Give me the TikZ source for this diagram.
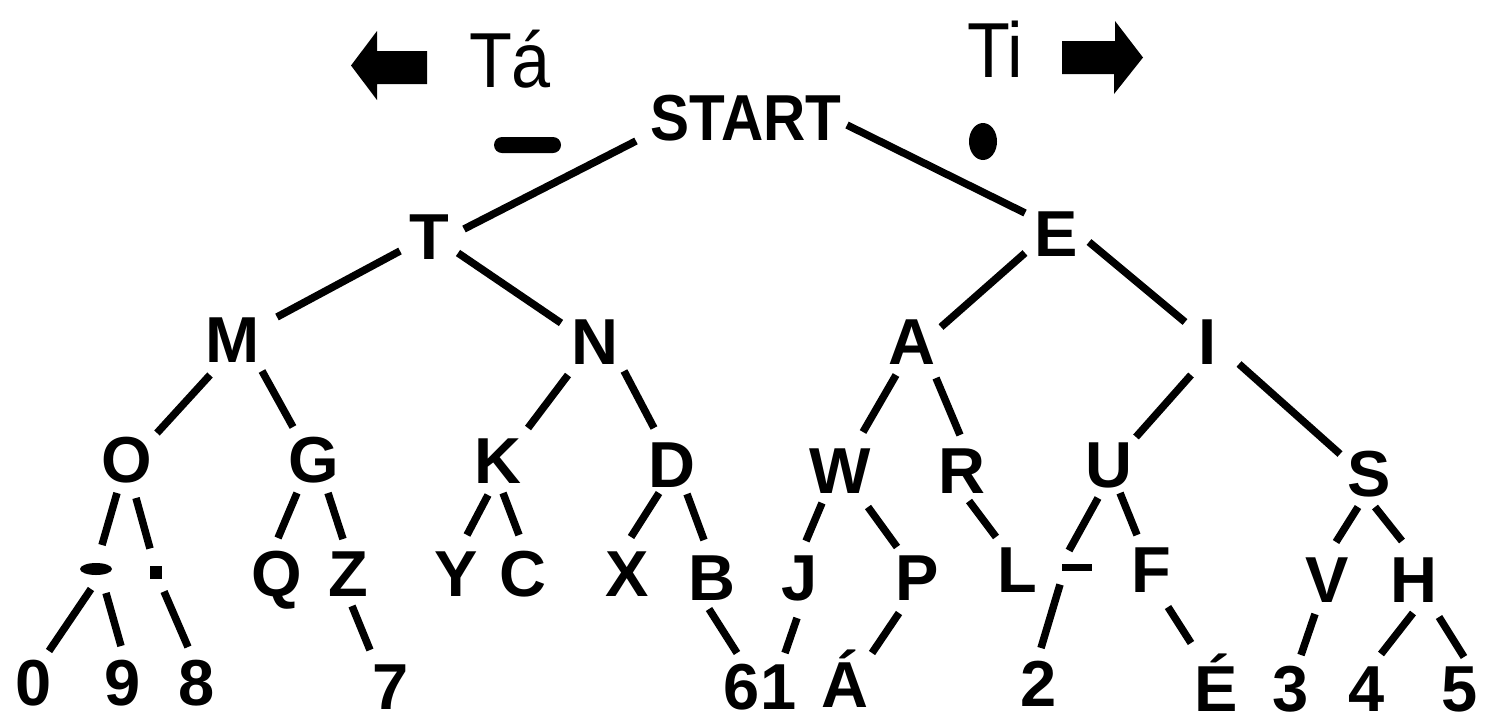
\documentclass[tikz,border=0pt]{standalone}
\usepackage{fontspec}
\usepackage{graphicx}
\setmainfont{Liberation Sans}
\usetikzlibrary{calc,shapes.geometric}
\newcommand\lblfont{\fontsize{65}{70}\selectfont\bfseries}
\newcommand\topfont{\fontsize{78}{80}\selectfont}
\begin{document}
\begin{tikzpicture}[x=1pt,y=-1pt,
  lbl/.style={font=\lblfont,inner sep=0pt,anchor=base},
  toplbl/.style={font=\topfont,inner sep=0pt,anchor=base},
  ln/.style={line width=7.5pt,line cap=butt},
  blob/.style={fill=black,draw=none,inner sep=0pt}]
\useasboundingbox (0,0) rectangle (1488,716);
% header
\fill (351,65.5) -- (377,31) -- (377,51) -- (427,51) -- (427,84) -- (377,84) -- (377,100) -- cycle;
\fill (1062,41) -- (1115,41) -- (1115,21) -- (1143,57.5) -- (1114,94) -- (1114,74) -- (1062,74) -- cycle;
\node[toplbl] (ta) at (510,87) {\scalebox{0.9}[1]{Tá}};
\node[toplbl] (ti) at (995,77) {\scalebox{0.9}[1]{Ti}};
\node[blob,rectangle,rounded corners=8pt,minimum width=67pt,minimum height=16pt] (tminus) at (527.5,145) {};
\node[blob,ellipse,minimum width=28pt,minimum height=37pt] (tdot) at (983,141.5) {};
% nodes
\node[lbl] (nstart) at (746,140) {\scalebox{0.9}[1]{START}};
\node[lbl] (nT) at (429,259) {T};
\node[lbl] (nE) at (1056,256) {E};
\node[lbl] (nM) at (233,362) {M};
\node[lbl] (nN) at (595,364) {N};
\node[lbl] (nA) at (912,364) {A};
\node[lbl] (nI) at (1208,364) {I};
\node[lbl] (nO) at (127,482) {O};
\node[lbl] (nG) at (314,482) {G};
\node[lbl] (nK) at (498,483) {K};
\node[lbl] (nD) at (672,487) {D};
\node[lbl] (nW) at (840,493) {W};
\node[lbl] (nR) at (962,493) {R};
\node[lbl] (nU) at (1109,487) {U};
\node[lbl] (nS) at (1369,496) {S};
\node[blob,ellipse,minimum width=32pt,minimum height=12pt] (ndl) at (96,569) {};
\node[blob,rectangle,minimum width=12pt,minimum height=13pt] (npl) at (156,572.5) {};
\node[lbl] (nQ) at (277,596) {Q};
\node[lbl] (nZ) at (348,596) {Z};
\node[lbl] (nY) at (456,596) {Y};
\node[lbl] (nC) at (523,596) {C};
\node[lbl] (nX) at (627,596) {X};
\node[lbl] (nB) at (712,600) {B};
\node[lbl] (nJ) at (800,600) {J};
\node[lbl] (nP) at (917,600) {P};
\node[lbl] (nL) at (1017,592) {L};
\node[blob,rectangle,minimum width=30pt,minimum height=7pt] (ndu) at (1077,567.5) {};
\node[lbl] (nF) at (1151,592) {F};
\node[lbl] (nV) at (1327,602) {V};
\node[lbl] (nH) at (1414,602) {H};
\node[lbl] (d0) at (34,705) {0};
\node[lbl] (d9) at (123,705) {9};
\node[lbl] (d8) at (197,705) {8};
\node[lbl] (d7) at (391,709) {7};
\node[lbl] (d6) at (742,709) {6};
\node[lbl] (d1) at (779,709) {1};
\node[lbl] (nAa) at (845,707) {Á};
\node[lbl] (d2) at (1039,706) {2};
\node[lbl] (nEe) at (1216,711) {É};
\node[lbl] (d3) at (1291,711) {3};
\node[lbl] (d4) at (1367,711) {4};
\node[lbl] (d5) at (1460,711) {5};
% edges
\draw[ln] ($(nstart.base)+(-110,1)$) -- ($(nT.base)+(35,-30)$);
\draw[ln] ($(nstart.base)+(101,-15)$) -- ($(nE.base)+(-31,-43)$);
\draw[ln] ($(nT.base)+(-29,-8)$) -- ($(nM.base)+(44,-45)$);
\draw[ln] ($(nT.base)+(29,-6)$) -- ($(nN.base)+(-34,-41)$);
\draw[ln] ($(nE.base)+(-31,-3)$) -- ($(nA.base)+(29,-37)$);
\draw[ln] ($(nE.base)+(33,-14)$) -- ($(nI.base)+(-23,-42)$);
\draw[ln] ($(nM.base)+(-23,13)$) -- ($(nO.base)+(30,-49)$);
\draw[ln] ($(nM.base)+(29,9)$) -- ($(nG.base)+(-21,-55)$);
\draw[ln] ($(nN.base)+(-27,11)$) -- ($(nK.base)+(30,-55)$);
\draw[ln] ($(nN.base)+(29,7)$) -- ($(nD.base)+(-18,-59)$);
\draw[ln] ($(nA.base)+(-16,11)$) -- ($(nW.base)+(23,-61)$);
\draw[ln] ($(nA.base)+(24,14)$) -- ($(nR.base)+(-2,-58)$);
\draw[ln] ($(nI.base)+(-17,11)$) -- ($(nU.base)+(27,-50)$);
\draw[ln] ($(nI.base)+(31,0)$) -- ($(nS.base)+(-29,-42)$);
\draw[ln] ($(nO.base)+(-10,11)$) -- ($(ndl.center)+(6,-24)$);
\draw[ln] ($(nO.base)+(9,16)$) -- ($(npl.center)+(-6,-24)$);
\draw[ln] ($(nG.base)+(-17,11)$) -- ($(nQ.base)+(1,-58)$);
\draw[ln] ($(nG.base)+(14,11)$) -- ($(nZ.base)+(-5,-57)$);
\draw[ln] ($(nK.base)+(-10,12)$) -- ($(nY.base)+(11,-61)$);
\draw[ln] ($(nK.base)+(5,10)$) -- ($(nC.base)+(-4,-61)$);
\draw[ln] ($(nD.base)+(-13,6)$) -- ($(nX.base)+(4,-59)$);
\draw[ln] ($(nD.base)+(15,7)$) -- ($(nB.base)+(-8,-60)$);
\draw[ln] ($(nW.base)+(-18,10)$) -- ($(nJ.base)+(6,-59)$);
\draw[ln] ($(nW.base)+(28,14)$) -- ($(nP.base)+(-20,-53)$);
\draw[ln] ($(nR.base)+(7,8)$) -- ($(nL.base)+(-21,-55)$);
\draw[ln] ($(nU.base)+(-11,11)$) -- ($(ndu.center)+(-8,-17)$);
\draw[ln] ($(nU.base)+(11,6)$) -- ($(nF.base)+(-14,-57)$);
\draw[ln] ($(nS.base)+(-11,11)$) -- ($(nV.base)+(9,-60)$);
\draw[ln] ($(nS.base)+(6,11)$) -- ($(nH.base)+(-12,-61)$);
\draw[ln] ($(ndl.center)+(-5,20)$) -- ($(d0.base)+(15,-54)$);
\draw[ln] ($(ndl.center)+(10,24)$) -- ($(d9.base)+(-2,-59)$);
\draw[ln] ($(npl.center)+(8,19)$) -- ($(d8.base)+(-9,-58)$);
\draw[ln] ($(nZ.base)+(4,10)$) -- ($(d7.base)+(-21,-59)$);
\draw[ln] ($(nB.base)+(-3,9)$) -- ($(d6.base)+(-5,-56)$);
\draw[ln] ($(nJ.base)+(-3,18)$) -- ($(d1.base)+(6,-56)$);
\draw[ln] ($(nP.base)+(-18,13)$) -- ($(nAa.base)+(27,-54)$);
\draw[ln] ($(ndu.center)+(-17,17)$) -- ($(d2.base)+(2,-58)$);
\draw[ln] ($(nF.base)+(17,15)$) -- ($(nEe.base)+(-25,-68)$);
\draw[ln] ($(nV.base)+(-12,12)$) -- ($(d3.base)+(10,-56)$);
\draw[ln] ($(nH.base)+(-1,11)$) -- ($(d4.base)+(14,-57)$);
\draw[ln] ($(nH.base)+(25,15)$) -- ($(d5.base)+(4,-54)$);
\end{tikzpicture}
\end{document}
